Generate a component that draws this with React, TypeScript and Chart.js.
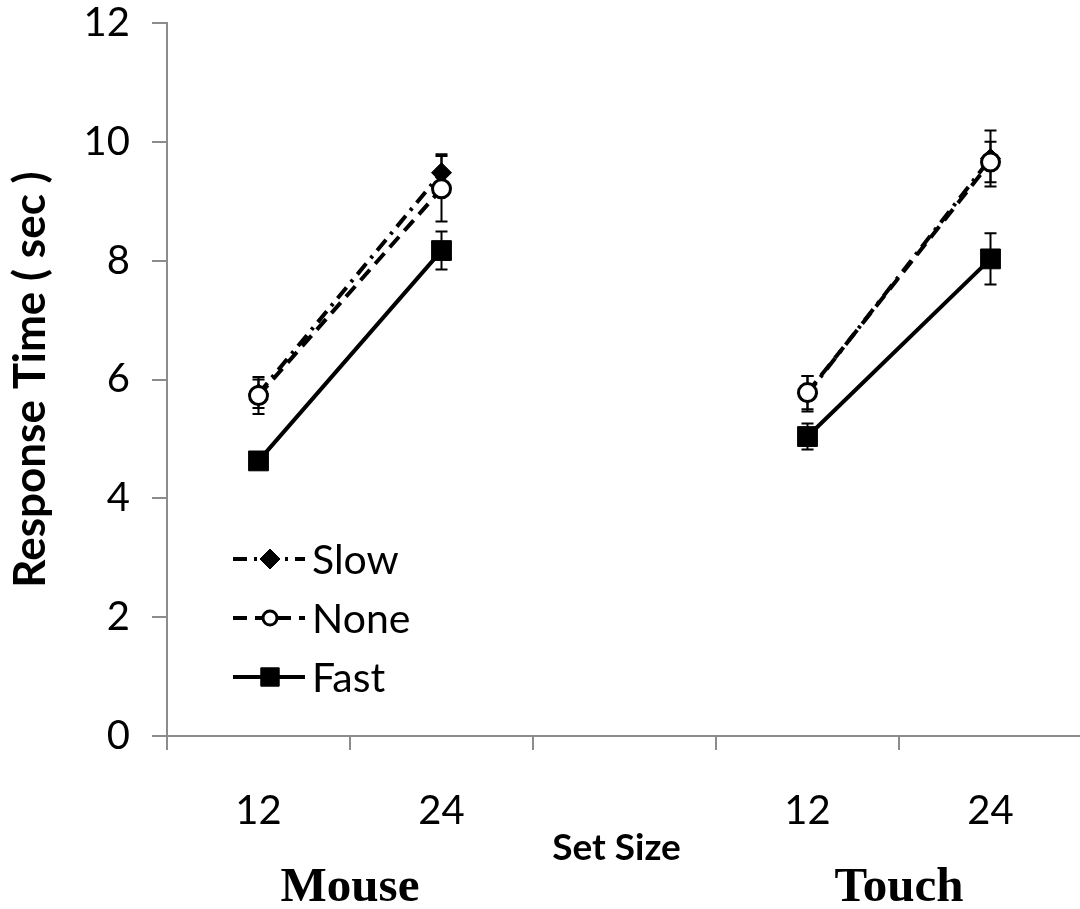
import React, { useEffect, useRef } from 'react';
import { Chart, registerables } from 'chart.js';
import { drawPoint } from 'chart.js/helpers';

Chart.register(...registerables);

// Set-size categories; the empty slot separates the two input devices.
const categories = ['12', '24', '', '12', '24'];
const groupNames = ['Mouse', 'Touch'];
const groupSlots = [[0, 1], [3, 4]];

const slowValues = [5.76, 9.48, null, 5.76, 9.72];
const slowErrors = [0.24, 0.31, null, 0.3, 0.47];
const noneValues = [5.73, 9.21, null, 5.78, 9.66];
const noneErrors = [0.31, 0.55, null, 0.28, 0.34];
const fastValues = [4.63, 8.17, null, 5.04, 8.03];
const fastErrors = [0.1, 0.32, null, 0.22, 0.43];

const yMin = 0;
const yMax = 12;
const yStep = 2;

const SANS = 'Lato, "Open Sans", sans-serif';
const SERIF = '"Liberation Serif", "DejaVu Serif", serif';
const AXIS_GREY = '#8c8c8c';

const errorBarPlugin = {
  id: 'errorBars',
  beforeDatasetsDraw(chart: any) {
    const { ctx } = chart;
    const xs = chart.scales.x;
    const ys = chart.scales.y;
    ctx.save();
    ctx.strokeStyle = '#000';
    ctx.lineWidth = 2;
    ctx.setLineDash([]);
    chart.data.datasets.forEach((ds: any) => {
      const errs = ds.errors || [];
      ds.data.forEach((v: number | null, i: number) => {
        const e = errs[i];
        if (v == null || e == null) return;
        const x = xs.getPixelForValue(i);
        const yt = ys.getPixelForValue(v + e);
        const yb = ys.getPixelForValue(v - e);
        const cap = 6;
        ctx.beginPath();
        ctx.moveTo(x, yt);
        ctx.lineTo(x, yb);
        ctx.moveTo(x - cap, yt);
        ctx.lineTo(x + cap, yt);
        ctx.moveTo(x - cap, yb);
        ctx.lineTo(x + cap, yb);
        ctx.stroke();
      });
    });
    ctx.restore();
  },
};

const annotationPlugin = {
  id: 'annotations',
  afterDraw(chart: any) {
    const { ctx } = chart;
    const xs = chart.scales.x;
    ctx.save();

    // Legend inside the plot area
    const legendX = 233;
    const rowY = [559, 618, 677];
    const legendOrder = [0, 1, 2];
    legendOrder.forEach((di, row) => {
      const ds = chart.data.datasets[di];
      const y = rowY[row];
      ctx.strokeStyle = '#000';
      ctx.lineWidth = 4;
      ctx.setLineDash(ds.borderDash || []);
      ctx.beginPath();
      ctx.moveTo(legendX, y);
      ctx.lineTo(legendX + 72, y);
      ctx.stroke();
      ctx.setLineDash([]);
      ctx.fillStyle = ds.pointBackgroundColor;
      ctx.strokeStyle = ds.pointBorderColor;
      ctx.lineWidth = ds.pointBorderWidth;
      drawPoint(
        ctx,
        {
          pointStyle: ds.pointStyle,
          radius: ds.legendRadius,
          rotation: 0,
          borderWidth: ds.pointBorderWidth,
        },
        legendX + 37,
        y
      );
      ctx.fillStyle = '#000';
      ctx.font = `41px ${SANS}`;
      ctx.textAlign = 'left';
      ctx.textBaseline = 'middle';
      ctx.fillText(ds.label, legendX + 79, y + 2);
    });

    // Axis title and device group labels
    ctx.fillStyle = '#000';
    ctx.textAlign = 'center';
    ctx.textBaseline = 'alphabetic';
    ctx.font = `bold 37px ${SANS}`;
    ctx.fillText('Set Size', (xs.left + xs.right) / 2 - 8, 860);

    ctx.font = `bold 49px ${SERIF}`;
    groupNames.forEach((name, g) => {
      const [a, b] = groupSlots[g];
      const cx = (xs.getPixelForValue(a) + xs.getPixelForValue(b)) / 2;
      ctx.fillText(name, cx, 901);
    });
    ctx.restore();
  },
};

export default function App() {
  const canvasRef = useRef<HTMLCanvasElement | null>(null);

  useEffect(() => {
    document.body.style.margin = '0';
    const canvas = canvasRef.current;
    if (!canvas) return;

    const chart = new Chart(canvas, {
      type: 'line',
      data: {
        labels: categories,
        datasets: [
          {
            label: 'Slow',
            data: slowValues,
            errors: slowErrors,
            order: 1,
            borderColor: '#000',
            borderWidth: 4,
            borderDash: [14, 7, 3, 7],
            pointStyle: 'rectRot',
            pointRadius: 10,
            legendRadius: 10,
            pointBackgroundColor: '#000',
            pointBorderColor: '#000',
            pointBorderWidth: 1,
            fill: false,
          } as any,
          {
            label: 'None',
            data: noneValues,
            errors: noneErrors,
            order: 0,
            borderColor: '#000',
            borderWidth: 4,
            borderDash: [14, 8],
            pointStyle: 'circle',
            pointRadius: 9,
            legendRadius: 7,
            pointBackgroundColor: '#fff',
            pointBorderColor: '#000',
            pointBorderWidth: 3,
            fill: false,
          } as any,
          {
            label: 'Fast',
            data: fastValues,
            errors: fastErrors,
            order: 2,
            borderColor: '#000',
            borderWidth: 4,
            pointStyle: 'rect',
            pointRadius: 14,
            legendRadius: 13,
            pointBackgroundColor: '#000',
            pointBorderColor: '#000',
            pointBorderWidth: 1,
            fill: false,
          } as any,
        ],
      },
      options: {
        responsive: false,
        animation: false,
        devicePixelRatio: 1,
        spanGaps: false,
        layout: { padding: { top: 23, right: 18, bottom: 0, left: 0 } },
        plugins: {
          legend: { display: false },
          tooltip: { enabled: false },
        },
        scales: {
          x: {
            type: 'category',
            offset: true,
            grid: {
              offset: true,
              drawOnChartArea: false,
              tickLength: 14,
              color: AXIS_GREY,
              lineWidth: 2,
            },
            border: { color: AXIS_GREY, width: 2 },
            ticks: {
              color: '#000',
              padding: 41,
              maxRotation: 0,
              autoSkip: false,
              font: { family: SANS, size: 40, lineHeight: 1 },
            },
            afterFit(scale: any) {
              scale.height = 173;
              scale.paddingLeft = 0;
              scale.paddingRight = 0;
            },
          },
          y: {
            min: yMin,
            max: yMax,
            ticks: {
              stepSize: yStep,
              color: '#000',
              padding: 22,
              font: { family: SANS, size: 40, lineHeight: 1 },
            },
            grid: {
              drawOnChartArea: false,
              tickLength: 15,
              color: AXIS_GREY,
              lineWidth: 2,
            },
            border: { color: AXIS_GREY, width: 2 },
            title: {
              display: true,
              text: 'Response Time ( sec )',
              color: '#000',
              padding: { top: 4, bottom: 0 },
              font: { family: SANS, size: 44, weight: 'bold', lineHeight: 1.2 },
            },
            afterFit(scale: any) {
              scale.width = 167;
              scale.paddingTop = 0;
              scale.paddingBottom = 0;
            },
          },
        },
      },
      plugins: [errorBarPlugin, annotationPlugin],
    } as any);

    return () => chart.destroy();
  }, []);

  return (
    <div style={{ width: 1080, height: 909, overflow: 'hidden', background: '#fff' }}>
      <canvas ref={canvasRef} width={1100} height={909} style={{ display: 'block' }} />
    </div>
  );
}
